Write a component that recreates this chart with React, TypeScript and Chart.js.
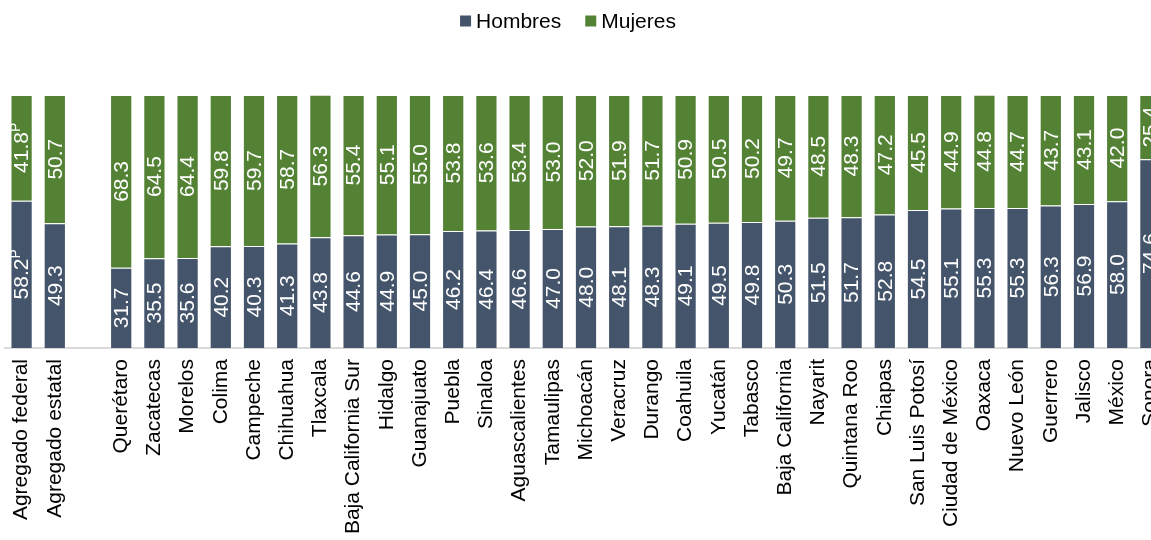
import React, { useEffect, useRef } from "react";
import { Chart, registerables } from "chart.js";

Chart.register(...registerables);

const categories: string[] = [
  "Agregado federal", "Agregado estatal", "",
  "Querétaro", "Zacatecas", "Morelos", "Colima", "Campeche", "Chihuahua", "Tlaxcala",
  "Baja California Sur", "Hidalgo", "Guanajuato", "Puebla", "Sinaloa", "Aguascalientes",
  "Tamaulipas", "Michoacán", "Veracruz", "Durango", "Coahuila", "Yucatán", "Tabasco",
  "Baja California", "Nayarit", "Quintana Roo", "Chiapas", "San Luis Potosí",
  "Ciudad de México", "Oaxaca", "Nuevo León", "Guerrero", "Jalisco", "México", "Sonora",
];

const hombres: (number | null)[] = [
  58.2, 49.3, null,
  31.7, 35.5, 35.6, 40.2, 40.3, 41.3, 43.8,
  44.6, 44.9, 45.0, 46.2, 46.4, 46.6,
  47.0, 48.0, 48.1, 48.3, 49.1, 49.5, 49.8,
  50.3, 51.5, 51.7, 52.8, 54.5,
  55.1, 55.3, 55.3, 56.3, 56.9, 58.0, 74.6,
];

const mujeres: (number | null)[] = [
  41.8, 50.7, null,
  68.3, 64.5, 64.4, 59.8, 59.7, 58.7, 56.3,
  55.4, 55.1, 55.0, 53.8, 53.6, 53.4,
  53.0, 52.0, 51.9, 51.7, 50.9, 50.5, 50.2,
  49.7, 48.5, 48.3, 47.2, 45.5,
  44.9, 44.8, 44.7, 43.7, 43.1, 42.0, 25.4,
];

// categories whose figures are preliminary (superscript "P")
const preliminary: string[] = ["Agregado federal"];

const seriesNames = ["Hombres", "Mujeres"];
const seriesColors = ["#44546A", "#548235"];

const FONT = "'Liberation Sans', Arial, sans-serif";
const LEGEND_CENTER_X = 568;

const barLabelsPlugin = {
  id: "barLabels",
  afterDatasetsDraw(chart: any) {
    const ctx = chart.ctx;
    chart.data.datasets.forEach((ds: any, di: number) => {
      const meta = chart.getDatasetMeta(di);
      meta.data.forEach((el: any, i: number) => {
        const v = ds.data[i];
        if (v === null || v === undefined) return;
        const { x, y, base } = el.getProps(["x", "y", "base"], true);
        const cy = (y + base) / 2;
        const main = v.toFixed(1);
        const sup = preliminary.includes(categories[i]) ? "P" : "";
        ctx.save();
        ctx.translate(x, cy);
        ctx.rotate(-Math.PI / 2);
        ctx.fillStyle = "#FFFFFF";
        ctx.textBaseline = "middle";
        ctx.textAlign = "left";
        ctx.font = `21px ${FONT}`;
        const w1 = ctx.measureText(main).width;
        ctx.font = `14px ${FONT}`;
        const w2 = sup ? ctx.measureText(sup).width : 0;
        const start = -(w1 + w2) / 2;
        ctx.font = `21px ${FONT}`;
        ctx.fillText(main, start, 1);
        if (sup) {
          ctx.font = `14px ${FONT}`;
          ctx.fillText(sup, start + w1, -5);
        }
        ctx.restore();
      });
    });
  },
};

const legendPlugin = {
  id: "customLegend",
  afterDraw(chart: any) {
    const ctx = chart.ctx;
    const box = 11;
    const gap = 5;
    const itemGap = 24;
    ctx.save();
    ctx.font = `21px ${FONT}`;
    const widths = seriesNames.map((n) => box + gap + ctx.measureText(n).width);
    const total = widths.reduce((a, b) => a + b, 0) + itemGap * (seriesNames.length - 1);
    let x = LEGEND_CENTER_X - total / 2;
    const cy = 21;
    seriesNames.forEach((n, i) => {
      ctx.fillStyle = seriesColors[i];
      ctx.fillRect(x, cy - box / 2, box, box);
      ctx.fillStyle = "#000000";
      ctx.textBaseline = "middle";
      ctx.textAlign = "left";
      ctx.fillText(n, x + box + gap, cy + 1);
      x += widths[i] + itemGap;
    });
    ctx.restore();
  },
};

export default function App() {
  const ref = useRef<HTMLCanvasElement | null>(null);

  useEffect(() => {
    if (!ref.current) return;
    const chart = new Chart(ref.current, {
      type: "bar",
      data: {
        labels: categories,
        datasets: [
          {
            label: seriesNames[0],
            data: hombres,
            backgroundColor: seriesColors[0],
            borderColor: "rgba(255,255,255,0.35)",
            borderWidth: 1,
            barPercentage: 0.67,
            categoryPercentage: 1,
          },
          {
            label: seriesNames[1],
            data: mujeres,
            backgroundColor: seriesColors[1],
            borderColor: "rgba(255,255,255,0.35)",
            borderWidth: 1,
            barPercentage: 0.67,
            categoryPercentage: 1,
          },
        ],
      },
      options: {
        animation: false,
        responsive: false,
        maintainAspectRatio: false,
        layout: { padding: { top: 95, left: 5, right: 0, bottom: 0 } },
        plugins: {
          legend: { display: false },
          tooltip: { enabled: false },
        },
        scales: {
          x: {
            stacked: true,
            grid: { display: false, drawTicks: false },
            border: { display: true, color: "#D9D9D9", width: 2 },
            ticks: {
              autoSkip: false,
              maxRotation: 90,
              minRotation: 90,
              padding: 11,
              color: "#000000",
              font: { family: FONT, size: 21 },
            },
            afterFit(scale: any) {
              scale.height = 192;
              scale.paddingLeft = 0;
              scale.paddingRight = 0;
            },
          },
          y: {
            stacked: true,
            display: false,
            min: 0,
            max: 100,
          },
        },
      },
      plugins: [barLabelsPlugin, legendPlugin],
    });
    return () => chart.destroy();
  }, []);

  // Canvas is wider than the window (the last bar is cut off at the right edge)
  const canvasW = 1167;
  return (
    <div style={{ position: "absolute", left: 0, top: 0, width: 1151, height: 540, overflow: "hidden", background: "#fff" }}>
      <canvas ref={ref} width={canvasW} height={540} style={{ display: "block", width: canvasW, height: 540 }} />
    </div>
  );
}
